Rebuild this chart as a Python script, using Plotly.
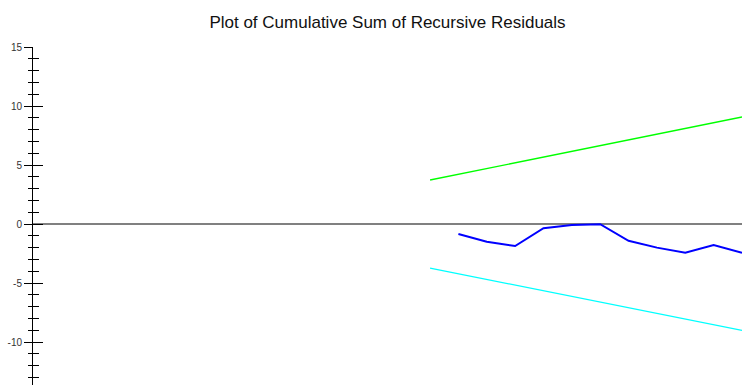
import plotly.graph_objects as go

# Data
cusum_t = [15, 16, 17, 18, 19, 20, 21, 22, 23, 24, 25]
cusum_vals = [-0.85, -1.50, -1.86, -0.36, -0.08, -0.02, -1.42, -2.00, -2.43, -1.78, -2.43]
bound_t = [14, 25]
upper_bound = [3.73, 9.07]
lower_bound = [-3.73, -9.02]
y_tickvals = [-10, -5, 0, 5, 10, 15]
title_text = "Plot of Cumulative Sum of Recursive Residuals"

fig = go.Figure()
fig.add_trace(go.Scatter(x=bound_t, y=upper_bound, mode="lines",
                         line=dict(color="#00ff00", width=1.3), showlegend=False, hoverinfo="skip"))
fig.add_trace(go.Scatter(x=bound_t, y=lower_bound, mode="lines",
                         line=dict(color="#00ffff", width=1.2), showlegend=False, hoverinfo="skip"))
fig.add_trace(go.Scatter(x=cusum_t, y=cusum_vals, mode="lines",
                         line=dict(color="#0000ff", width=2), showlegend=False, hoverinfo="skip"))
# dummy trace to activate the overlaid axis (inside ticks)
fig.add_trace(go.Scatter(x=[None], y=[None], yaxis="y2", mode="lines", showlegend=False, hoverinfo="skip"))

yrange = [-13.64, 15]
fig.update_layout(
    width=742, height=385,
    margin=dict(l=33, r=0, t=47, b=0),
    paper_bgcolor="white", plot_bgcolor="white",
    font=dict(family="Liberation Sans, Arial", color="#222"),
    title=dict(text=title_text, x=0.5, xref="paper", y=1 - 22 / 385, yanchor="middle",
               font=dict(size=17, color="#111", family="Liberation Sans, Arial")),
    xaxis=dict(range=[0, 25], visible=False, showgrid=False, zeroline=False),
    yaxis=dict(range=yrange, tickvals=y_tickvals, ticktext=[str(v) for v in y_tickvals],
               ticks="outside", ticklen=8, tickcolor="black", tickwidth=1,
               showline=True, linecolor="black", linewidth=1,
               showgrid=False, zeroline=True, zerolinecolor="#808080", zerolinewidth=1.5,
               tickfont=dict(size=10, color="#333"),
               minor=dict(dtick=1, tick0=0, ticks="outside", ticklen=4, tickcolor="black", tickwidth=1,
                          showgrid=False)),
    yaxis2=dict(range=yrange, overlaying="y", side="left", anchor="x",
                tickvals=y_tickvals, showticklabels=False,
                ticks="inside", ticklen=10, tickcolor="black", tickwidth=1,
                showline=False, showgrid=False, zeroline=False,
                minor=dict(dtick=1, tick0=0, ticks="inside", ticklen=6, tickcolor="black", tickwidth=1,
                           showgrid=False)),
)

fig.write_html("out.html")
